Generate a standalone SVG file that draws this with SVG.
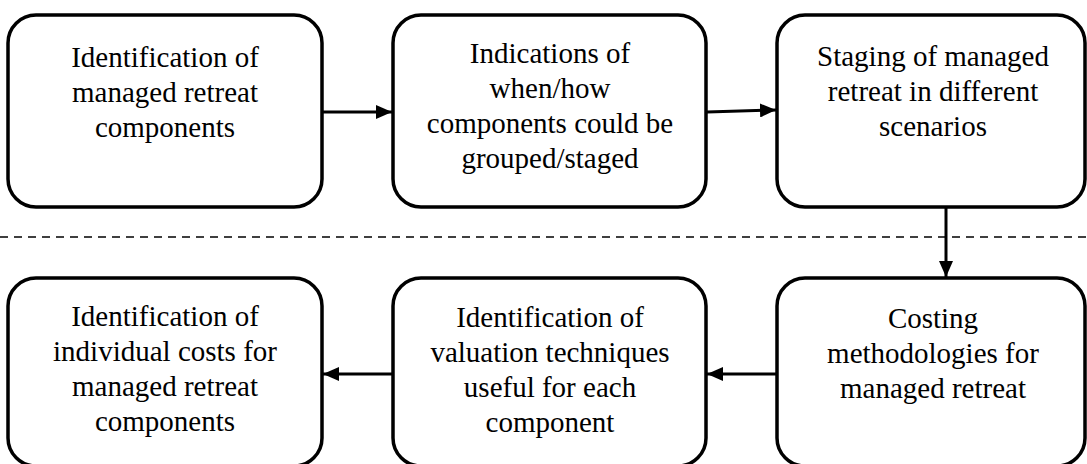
<svg xmlns="http://www.w3.org/2000/svg" width="1087" height="464" viewBox="0 0 1087 464">
<style>
.box{fill:#fff;stroke:#000;stroke-width:3.5}
.lbl{font-family:'Liberation Serif','Times New Roman',serif;font-size:29px;fill:#000;text-anchor:middle}
.conn{stroke:#000;stroke-width:3;fill:none}
.dash{stroke:#000;stroke-width:1.6;stroke-dasharray:8 6;fill:none}
</style>
<defs>
<marker id="ah" viewBox="0 0 16 14" refX="16" refY="7" markerWidth="16" markerHeight="14" orient="auto" markerUnits="userSpaceOnUse">
<path d="M0,0 L16,7 L0,14 Z" fill="#000"/>
</marker>
</defs>
<line class="dash" x1="0" y1="237" x2="1087" y2="237"/>
<g id="n1">
<rect class="box" x="8" y="15" width="314" height="192" rx="28"/>
<text class="lbl"><tspan x="165" y="67">Identification of</tspan><tspan x="165" y="102">managed retreat</tspan><tspan x="165" y="137">components</tspan></text>
</g>
<g id="n2">
<rect class="box" x="393" y="15" width="313" height="192" rx="28"/>
<text class="lbl"><tspan x="550" y="63">Indications of</tspan><tspan x="550" y="98">when/how</tspan><tspan x="550" y="133">components could be</tspan><tspan x="550" y="168">grouped/staged</tspan></text>
</g>
<g id="n3">
<rect class="box" x="777" y="15" width="308" height="192" rx="28"/>
<text class="lbl"><tspan x="933" y="66">Staging of managed</tspan><tspan x="933" y="101">retreat in different</tspan><tspan x="933" y="136">scenarios</tspan></text>
</g>
<g id="n4">
<rect class="box" x="8" y="278" width="314" height="188" rx="28"/>
<text class="lbl"><tspan x="165" y="326">Identification of</tspan><tspan x="165" y="361">individual costs for</tspan><tspan x="165" y="396">managed retreat</tspan><tspan x="165" y="431">components</tspan></text>
</g>
<g id="n5">
<rect class="box" x="393" y="278" width="313" height="188" rx="28"/>
<text class="lbl"><tspan x="550" y="327">Identification of</tspan><tspan x="550" y="362">valuation techniques</tspan><tspan x="550" y="397">useful for each</tspan><tspan x="550" y="432">component</tspan></text>
</g>
<g id="n6">
<rect class="box" x="777" y="278" width="308" height="188" rx="28"/>
<text class="lbl"><tspan x="933" y="328">Costing</tspan><tspan x="933" y="363">methodologies for</tspan><tspan x="933" y="398">managed retreat</tspan></text>
</g>
<g id="connectors">
<line class="conn" x1="323" y1="112" x2="392" y2="112" marker-end="url(#ah)"/>
<line class="conn" x1="707" y1="112" x2="776" y2="110" marker-end="url(#ah)"/>
<line class="conn" x1="946" y1="208" x2="946" y2="277" marker-end="url(#ah)"/>
<line class="conn" x1="776" y1="374" x2="707" y2="374" marker-end="url(#ah)"/>
<line class="conn" x1="392" y1="374" x2="323" y2="374" marker-end="url(#ah)"/>
</g>
</svg>
